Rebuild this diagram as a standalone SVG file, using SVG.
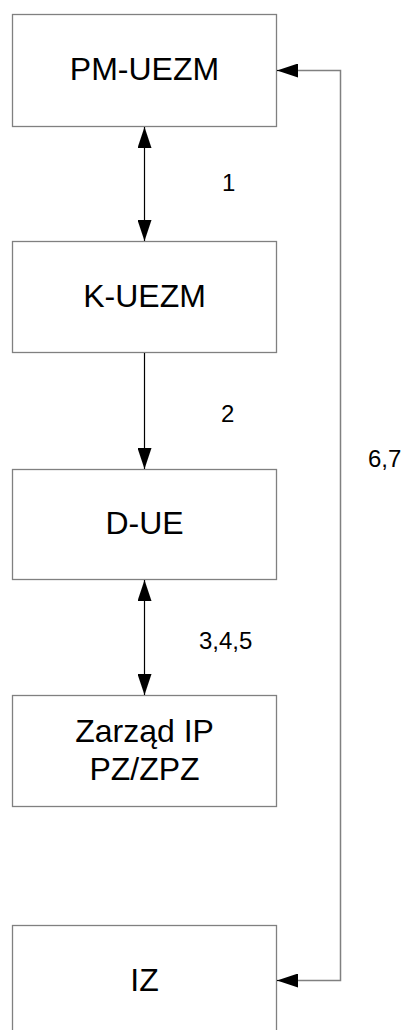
<svg xmlns="http://www.w3.org/2000/svg" width="403" height="1030" viewBox="0 0 403 1030">
<style>
.box{fill:#fff;stroke:#808080;stroke-width:1.3}
.t{font-family:"Liberation Sans",Arial,sans-serif;font-size:32px;fill:#000;text-anchor:middle}
.lbl{font-family:"Liberation Sans",Arial,sans-serif;font-size:24px;fill:#000}
.c{fill:none;stroke:#000;stroke-width:1.2}
.cg{fill:none;stroke:#808080;stroke-width:1.5}
</style>
<defs>
<marker id="ah" viewBox="0 0 21 14" refX="21" refY="7" markerWidth="21" markerHeight="14" markerUnits="userSpaceOnUse" orient="auto-start-reverse">
<path d="M0,0 L21,7 L0,14 Z" fill="#000"/>
</marker>
</defs>
<rect width="403" height="1030" fill="#fff"/>
<g id="n-pm-uezm"><rect class="box" x="12.5" y="14.5" width="264" height="112"/><text class="t" x="144.5" y="80">PM-UEZM</text></g>
<g id="n-k-uezm"><rect class="box" x="12.5" y="241.5" width="264" height="111"/><text class="t" x="144.5" y="307">K-UEZM</text></g>
<g id="n-d-ue"><rect class="box" x="12.5" y="469.5" width="264" height="110"/><text class="t" x="144.5" y="534">D-UE</text></g>
<g id="n-zarzad"><rect class="box" x="12.5" y="695.5" width="264" height="111"/><text class="t" x="144.5" y="741.5">Zarząd IP</text><text class="t" x="144.5" y="780">PZ/ZPZ</text></g>
<g id="n-iz"><rect class="box" x="12.5" y="925.5" width="264" height="112"/><text class="t" x="144.5" y="991">IZ</text></g>
<g id="connectors">
<line class="c" x1="144.5" y1="127" x2="144.5" y2="241" marker-start="url(#ah)" marker-end="url(#ah)"/>
<line class="c" x1="144.5" y1="353" x2="144.5" y2="469" marker-end="url(#ah)"/>
<line class="c" x1="144.5" y1="580" x2="144.5" y2="695" marker-start="url(#ah)" marker-end="url(#ah)"/>
<polyline class="cg" points="298,70.5 340.5,70.5 340.5,980.5 298,980.5"/>
<line class="c" x1="298" y1="70.5" x2="277" y2="70.5" stroke="none" marker-end="url(#ah)"/>
<line class="c" x1="298" y1="980.5" x2="277" y2="980.5" stroke="none" marker-end="url(#ah)"/>
<text class="lbl" x="222" y="191">1</text>
<text class="lbl" x="221" y="422">2</text>
<text class="lbl" x="199" y="649">3,4,5</text>
<text class="lbl" x="368" y="467">6,7</text>
</g>
</svg>
